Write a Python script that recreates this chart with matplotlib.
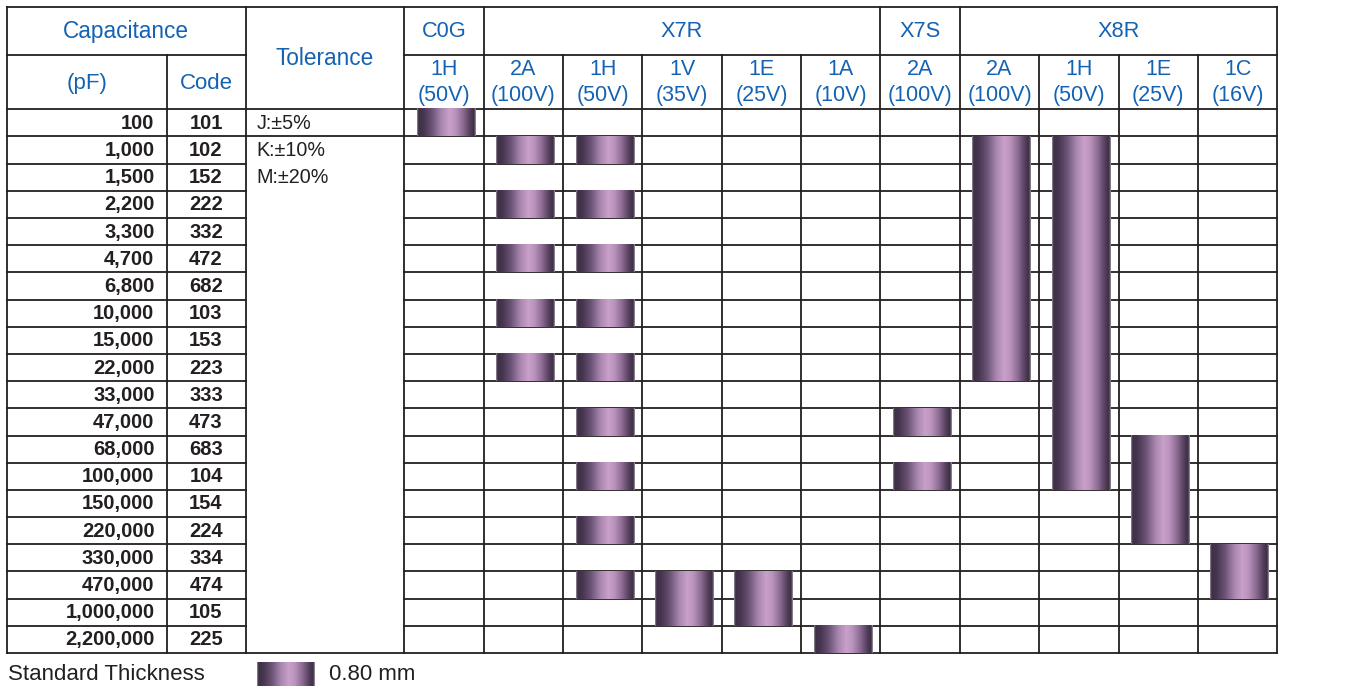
import numpy as np
import matplotlib
matplotlib.use("Agg")
import matplotlib.pyplot as plt
from matplotlib.colors import LinearSegmentedColormap

# ---------------- data ----------------
cap_pf = ["100", "1,000", "1,500", "2,200", "3,300", "4,700", "6,800", "10,000",
          "15,000", "22,000", "33,000", "47,000", "68,000", "100,000", "150,000",
          "220,000", "330,000", "470,000", "1,000,000", "2,200,000"]
cap_code = ["101", "102", "152", "222", "332", "472", "682", "103", "153", "223",
            "333", "473", "683", "104", "154", "224", "334", "474", "105", "225"]
tolerance = ["J:±5%", "K:±10%", "M:±20%"]
dielectrics = ["C0G", "X7R", "X7S", "X8R"]
dielectric_span = [1, 5, 1, 4]
voltage_codes = ["1H", "2A", "1H", "1V", "1E", "1A", "2A", "2A", "1H", "1E", "1C"]
voltage_vals = ["(50V)", "(100V)", "(50V)", "(35V)", "(25V)", "(10V)",
                "(100V)", "(100V)", "(50V)", "(25V)", "(16V)"]
# availability per voltage column: list of (first code, last code) ranges
available = [
    [("101", "101")],
    [("102", "102"), ("222", "222"), ("472", "472"), ("103", "103"), ("223", "223")],
    [("102", "102"), ("222", "222"), ("472", "472"), ("103", "103"), ("223", "223"),
     ("473", "473"), ("104", "104"), ("224", "224"), ("474", "474")],
    [("474", "105")],
    [("474", "105")],
    [("225", "225")],
    [("473", "473"), ("104", "104")],
    [("102", "223")],
    [("102", "104")],
    [("683", "224")],
    [("334", "474")],
]
header_cap = "Capacitance"
header_pf = "(pF)"
header_code = "Code"
header_tol = "Tolerance"
thickness_label = "Standard Thickness"
thickness_value = "0.80 mm"

# ---------------- layout ----------------
W, H = 1360, 686
X0, X_CODE, X_TOL, X_V0, X1 = 7, 166.5, 245.5, 404.3, 1277.3
Y0, Y_H1, Y_H2, Y1 = 6.5, 55, 109.3, 653
NV = len(voltage_codes)
NR = len(cap_pf)
cw = (X1 - X_V0) / NV
rh = (Y1 - Y_H2) / NR
LINE = "#231f20"
BLUE = "#1463b3"
TXT = "#231f20"
LW = 1.3
FONT = "Liberation Sans"

fig = plt.figure(figsize=(W / 100, H / 100), dpi=100)
ax = fig.add_axes([0, 0, 1, 1])
ax.set_xlim(0, W)
ax.set_ylim(H, 0)
ax.axis("off")

def hline(y, xa, xb):
    ax.plot([xa, xb], [y, y], color=LINE, lw=LW, solid_capstyle="projecting", zorder=2)

def vline(x, ya, yb):
    ax.plot([x, x], [ya, yb], color=LINE, lw=LW, solid_capstyle="projecting", zorder=2)

# outer / header lines
hline(Y0, X0, X1)
hline(Y_H2, X0, X1)
hline(Y1, X0, X1)
hline(Y_H1, X0, X_TOL)
hline(Y_H1, X_V0, X1)
for k in range(1, NR):
    y = Y_H2 + k * rh
    hline(y, X0, X_TOL)
    hline(y, X_V0, X1)
hline(Y_H2 + rh, X_TOL, X_V0)

vline(X0, Y0, Y1)
vline(X_CODE, Y_H1, Y1)
vline(X_TOL, Y0, Y1)
group_edges = list(np.cumsum([0] + dielectric_span))
for i in range(NV + 1):
    x = X_V0 + i * cw
    if i in group_edges:
        vline(x, Y0, Y1)
    else:
        vline(x, Y_H1, Y1)

# header text
hkw = dict(color=BLUE, family=FONT, ha="center", va="center")
ax.text((X0 + X_TOL) / 2, (Y0 + Y_H1) / 2 + 1, header_cap, fontsize=16.3, **hkw)
ax.text((X0 + X_CODE) / 2, (Y_H1 + Y_H2) / 2 + 1, header_pf, fontsize=16, **hkw)
ax.text((X_CODE + X_TOL) / 2, (Y_H1 + Y_H2) / 2 + 1, header_code, fontsize=16, **hkw)
ax.text((X_TOL + X_V0) / 2, (Y0 + Y_H2) / 2 + 1, header_tol, fontsize=16.3, **hkw)
for g, name in enumerate(dielectrics):
    xa = X_V0 + group_edges[g] * cw
    xb = X_V0 + group_edges[g + 1] * cw
    ax.text((xa + xb) / 2, (Y0 + Y_H1) / 2 + 1, name, fontsize=15.7, **hkw)
for i in range(NV):
    xc = X_V0 + (i + 0.5) * cw
    ax.text(xc, Y_H1 + 14.5, voltage_codes[i], fontsize=15.5, **hkw)
    ax.text(xc, Y_H1 + 41, voltage_vals[i], fontsize=15.5, **hkw)

# row labels
for r in range(NR):
    yc = Y_H2 + (r + 0.5) * rh + 0.5
    ax.text(X_CODE - 12, yc, cap_pf[r], color=TXT, fontsize=14.5, fontweight="bold",
            family=FONT, ha="right", va="center")
    ax.text((X_CODE + X_TOL) / 2, yc, cap_code[r], color=TXT, fontsize=14.5,
            fontweight="bold", family=FONT, ha="center", va="center")
for r, t in enumerate(tolerance):
    yc = Y_H2 + (r + 0.5) * rh + 0.5
    ax.text(X_TOL + 11, yc, t, color=TXT, fontsize=14.2, family=FONT,
            ha="left", va="center")

# gradient for bars
stops = [(0.0, "#9a939c"), (0.025, "#3e3047"), (0.1, "#45344e"), (0.25, "#6a5274"),
         (0.42, "#ab88b0"), (0.55, "#c9a0c9"), (0.65, "#bb94bc"), (0.78, "#8d6c94"),
         (0.9, "#55405c"), (0.97, "#3c2d44"), (1.0, "#a098a4")]
cmap = LinearSegmentedColormap.from_list("cyl", stops)
grad = np.linspace(0, 1, 256)[np.newaxis, :]

def bar(x0, x1, ya, yb):
    ax.imshow(grad, cmap=cmap, extent=(x0, x1, yb, ya), aspect="auto",
              interpolation="bilinear", zorder=3)

BAR_OFF, BAR_W = 12.5, 58.5
for i, ranges in enumerate(available):
    for a, b in ranges:
        ra, rb = cap_code.index(a), cap_code.index(b)
        xa = X_V0 + i * cw + BAR_OFF
        bar(xa, xa + BAR_W, Y_H2 + ra * rh, Y_H2 + (rb + 1) * rh)

# legend
ax.text(X0 + 1, 674, thickness_label, color=TXT, fontsize=16, family=FONT,
        ha="left", va="center")
bar(257, 315, 662, 690)
ax.text(329, 674, thickness_value, color=TXT, fontsize=16, family=FONT,
        ha="left", va="center")

ax.set_xlim(0, W)
ax.set_ylim(H, 0)
fig.savefig("out.png", dpi=100)
